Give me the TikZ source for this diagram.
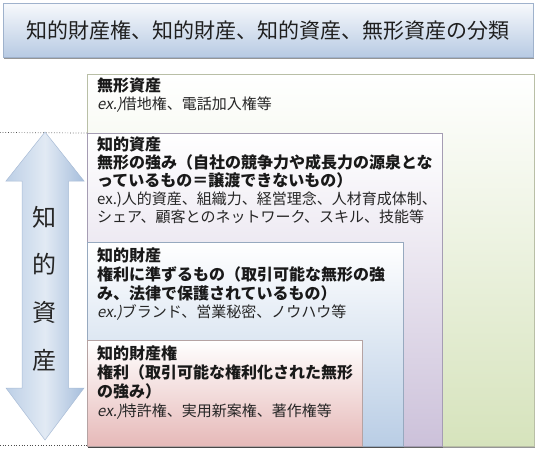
\documentclass[tikz,border=0pt]{standalone}
\usepackage{fontspec}
\setmainfont{Noto Sans CJK JP}
\newfontfamily\exslant{Noto Sans CJK JP}[FakeSlant=0.2]
\usetikzlibrary{shadows}
\definecolor{titletop}{HTML}{F7F9FC}
\definecolor{titlebot}{HTML}{B7CAE3}
\definecolor{titleline}{HTML}{9FB2CC}
\definecolor{greenbot}{HTML}{D6E3BC}
\definecolor{greenline}{HTML}{B9BFA6}
\definecolor{purplebot}{HTML}{CCC1DA}
\definecolor{purpleline}{HTML}{A59DB3}
\definecolor{bluebot}{HTML}{B9CDE5}
\definecolor{blueline}{HTML}{97A9BF}
\definecolor{pinkbot}{HTML}{E6B9B8}
\definecolor{pinkline}{HTML}{B5A3A3}
\definecolor{arrowleft}{HTML}{BCCFE6}
\definecolor{arrowmid}{HTML}{E2EAF4}
\definecolor{arrowright}{HTML}{A6BEDC}
\definecolor{arrowline}{HTML}{A9BCD6}
\begin{document}
\begin{tikzpicture}[x=1pt,y=1pt,
  shadowed/.style={drop shadow={shadow xshift=0.8pt,shadow yshift=-1.6pt,fill=black!75,opacity=0.55}},
  layerbox/.style={rectangle,anchor=north west,inner sep=0pt,line width=0.6pt,shadowed},
  hd/.style={font=\fontsize{16}{18}\selectfont\bfseries,anchor=base west,inner sep=0pt,text=black!90},
  exline/.style={font=\fontsize{15}{18}\selectfont,anchor=base west,inner sep=0pt,text=black!85},
  vchar/.style={font=\fontsize{24}{26}\selectfont,inner sep=0pt,text=black!85},
  dotline/.style={dotted,line width=0.7pt,black!70}
]
\useasboundingbox (0,0) rectangle (537,-449);

% title
\node[layerbox,top color=titletop,bottom color=titlebot,draw=titleline,
      minimum width=530,minimum height=54,
      font=\fontsize{21}{24}\selectfont,text=black!88] (title) at (3,-3)
      {知的財産権、知的財産、知的資産、無形資産の分類};

% layered boxes
\node[layerbox,top color=white,bottom color=greenbot,draw=greenline,
      minimum width=447,minimum height=372] (green) at (87,-74) {};
\node[layerbox,top color=white,bottom color=purplebot,draw=purpleline,
      minimum width=355,minimum height=313] (purple) at (87,-133) {};
\node[layerbox,top color=white,bottom color=bluebot,draw=blueline,
      minimum width=316,minimum height=204] (blue) at (87,-242) {};
\node[layerbox,top color=white,bottom color=pinkbot,draw=pinkline,
      minimum width=275,minimum height=106] (pink) at (87,-340) {};

% texts: 無形資産
\node[hd] (g1) at (97,-92) {無形資産};
\node[exline] (g2) at (97,-109.5) {{\exslant ex.)}借地権、電話加入権等};

% 知的資産
\node[hd] (p1) at (97,-150) {知的資産};
\node[hd] (p2) at (97,-168) {無形の強み（自社の競争力や成長力の源泉とな};
\node[hd] (p3) at (97,-186.5) {っているもの＝譲渡できないもの）};
\node[exline] (p4) at (97,-204.5) {ex.)人的資産、組織力、経営理念、人材育成体制、};
\node[exline] (p5) at (97,-222.5) {シェア、顧客とのネットワーク、スキル、技能等};

% 知的財産
\node[hd] (b1) at (97,-261) {知的財産};
\node[hd] (b2) at (97,-280) {権利に準ずるもの（取引可能な無形の強};
\node[hd] (b3) at (97,-299) {み、法律で保護されているもの）};
\node[exline] (b4) at (97,-317.5) {{\exslant ex.)}ブランド、営業秘密、ノウハウ等};

% 知的財産権
\node[hd] (r1) at (97,-359) {知的財産権};
\node[hd] (r2) at (97,-378) {権利（取引可能な権利化された無形};
\node[hd] (r3) at (97,-397.5) {の強み）};
\node[exline] (r4) at (97,-416.5) {{\exslant ex.)}特許権、実用新案権、著作権等};

% dotted guide lines
\coordinate (dtop) at (0,-132.5);
\coordinate (dbot) at (0,-445);
\draw[dotline] (dtop) -- (purple.north west);
\draw[dotline] (dbot) -- (pink.south west |- dbot);

% double arrow
\path[left color=arrowleft,right color=arrowright,middle color=arrowmid,draw=arrowline,line width=0.5pt]
  (45,-132) -- (84,-181) -- (68.5,-181) -- (68.5,-388) -- (84,-388) -- (45,-440)
  -- (6,-388) -- (22,-388) -- (22,-181) -- (6,-181) -- cycle;

\node[vchar] (v1) at (44.5,-217) {知};
\node[vchar] (v2) at (44.5,-264) {的};
\node[vchar] (v3) at (44.5,-312) {資};
\node[vchar] (v4) at (44.5,-360) {産};
\end{tikzpicture}
\end{document}
